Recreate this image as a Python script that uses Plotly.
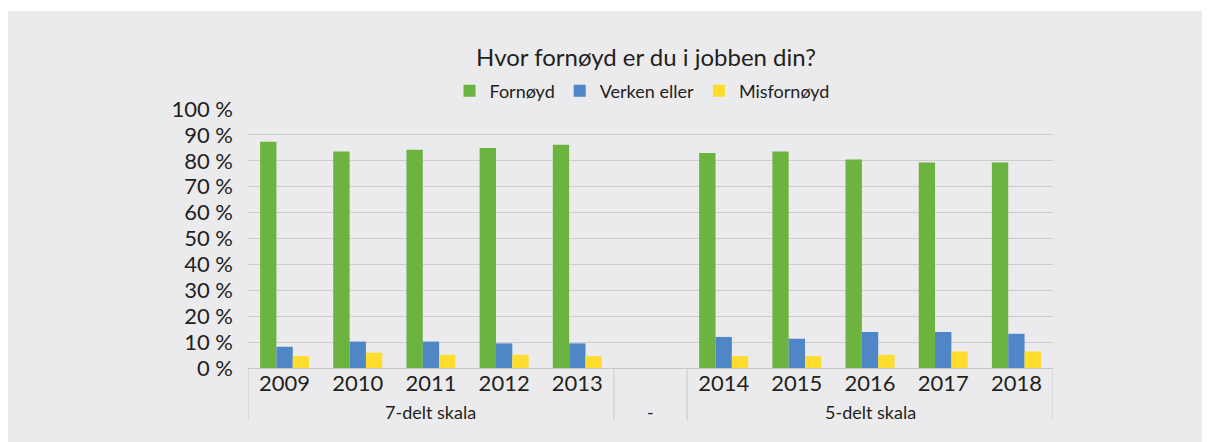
import plotly.graph_objects as go

# ---- data ----
categories = ["2009", "2010", "2011", "2012", "2013", " ", "2014", "2015", "2016", "2017", "2018"]
fornoyd = [87.4, 83.6, 84.3, 84.9, 86.2, None, 83.0, 83.6, 80.5, 79.3, 79.3]
verken = [8.2, 10.2, 10.2, 9.5, 9.5, None, 12.0, 11.3, 13.9, 13.9, 13.2]
misfornoyd = [4.6, 5.9, 5.1, 5.1, 4.6, None, 4.6, 4.6, 5.1, 6.4, 6.4]
series_names = ["Fornøyd", "Verken eller", "Misfornøyd"]
group_labels = ["7-delt skala", "-", "5-delt skala"]
group_centers = [2, 5, 8]          # category index at the centre of each group
group_edges = [-0.5, 4.5, 5.5, 10.5]
y_ticks = list(range(0, 101, 10))
y_ticktext = [f"{v} %" for v in y_ticks]
title_text = "Hvor fornøyd er du i jobben din?"

colors = ["#6db33f", "#4e86c6", "#fedd2e"]
BG = "#ebebed"
GRID = "#cdcdd0"
FONT = "Lato, 'Open Sans', sans-serif"
TXT = "#231f20"

W, H = 1210, 442
OFF = 8  # page body margin: figure pixel = screen pixel - OFF
L, R, T, B = 248 - OFF, W - (1053 - OFF), 109 - OFF, H - (368 - OFF)
PW, PH = W - L - R, H - T - B

def px2x(px):
    return (px - OFF - L) / PW

def px2y(py):
    return (H - B - (py - OFF)) / PH

fig = go.Figure()
for name, vals, col in zip(series_names, [fornoyd, verken, misfornoyd], colors):
    fig.add_trace(go.Bar(x=categories, y=vals, name=name,
                         marker=dict(color=col, line=dict(width=0))))

shapes = []
# group dividers on the category axis
for e in group_edges:
    shapes.append(dict(type="line", xref="x", yref="paper", x0=e, x1=e,
                       y0=0, y1=px2y(420), line=dict(color="#c8c8cb", width=1)))
# white page strip above the grey panel
shapes.append(dict(type="rect", xref="paper", yref="paper", layer="above",
                   x0=px2x(0), x1=px2x(1230), y0=px2y(11), y1=px2y(0),
                   fillcolor="white", line=dict(width=0)))

annotations = []
for lab, c in zip(group_labels, group_centers):
    annotations.append(dict(text=lab, x=c, xref="x", y=px2y(412), yref="paper",
                            showarrow=False, xanchor="center", yanchor="middle",
                            font=dict(family=FONT, size=18, color=TXT)))

fig.update_layout(
    width=W, height=H,
    margin=dict(l=L, r=R, t=T, b=B, pad=0, autoexpand=False),
    paper_bgcolor=BG, plot_bgcolor=BG,
    barmode="group", bargap=0.33, bargroupgap=0,
    font=dict(family=FONT, color=TXT),
    title=dict(text=title_text, xref="container", yref="container",
               x=(646 - OFF) / W, y=1 - (58 - OFF) / H,
               xanchor="center", yanchor="middle",
               font=dict(family=FONT, size=24, color=TXT)),
    legend=dict(orientation="h", xref="container", yref="container",
                x=(642 - OFF) / W, y=1 - (91 - OFF) / H,
                xanchor="center", yanchor="middle",
                font=dict(family=FONT, size=18, color=TXT),
                bgcolor="rgba(0,0,0,0)", itemsizing="constant"),
    xaxis=dict(type="category", categoryorder="array", categoryarray=categories,
               range=[-0.5, 10.5], showgrid=False, showline=True,
               linecolor="#c8c8cb", linewidth=1, ticks="",
               tickfont=dict(family=FONT, size=22, color=TXT),
               ticklabelstandoff=-4, automargin=False, fixedrange=True),
    yaxis=dict(range=[0, 100], tickvals=y_ticks, ticktext=y_ticktext,
               showgrid=True, gridcolor=GRID, gridwidth=1, zeroline=False,
               showline=False, ticks="",
               tickfont=dict(family=FONT, size=22, color=TXT),
               ticklabelstandoff=14, automargin=False, fixedrange=True),
    shapes=shapes, annotations=annotations,
    showlegend=True,
)

fig.write_html("out.html")
